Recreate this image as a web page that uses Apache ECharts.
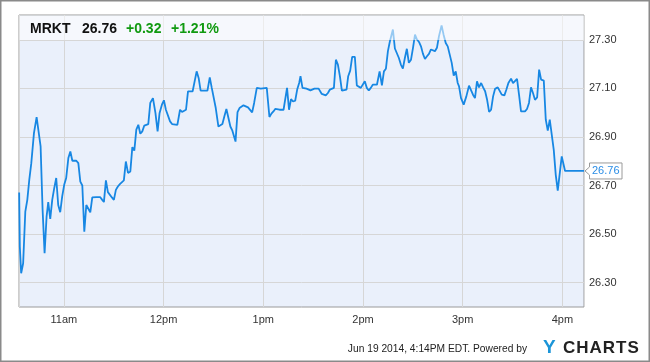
<!DOCTYPE html>
<html><head><meta charset="utf-8">
<script src="https://cdn.jsdelivr.net/npm/echarts@6/dist/echarts.min.js"></script>
<style>html,body{margin:0;padding:0;background:#fff}#c{width:650px;height:362px}</style>
</head><body><div id="c"></div><script>
const symbol = 'MRKT';
const lastPrice = 26.76;
const changeAbs = '+0.32';
const changePct = '+1.21%';
const footerText = 'Jun 19 2014, 4:14PM EDT. Powered by';
const brandY = 'Y';
const brandRest = 'CHARTS';
const xTickLabels = ['11am', '12pm', '1pm', '2pm', '3pm', '4pm'];
const xTickHours = [11, 12, 13, 14, 15, 16];
const yTicks = [26.30, 26.50, 26.70, 26.90, 27.10, 27.30];
// minutes since midnight (ET), Jun 19 2014
const minutes = [
633.1,633.5,634.3,635.5,636.8,638.0,639.2,640.4,642.0,643.6,644.8,646.0,647.2,648.4,649.6,650.6,651.8,653.0,654.2,655.4,
656.6,657.8,659.0,660.2,661.4,662.7,663.9,665.1,667.5,668.7,669.9,671.1,672.3,673.5,674.7,675.9,677.1,678.3,679.5,680.7,
681.9,683.1,684.1,685.3,686.5,687.7,688.9,690.1,691.3,692.5,693.7,694.9,696.1,697.3,698.6,700.0,701.2,702.4,703.6,704.8,
706.0,707.2,708.4,709.6,710.8,712.0,713.6,715.1,716.4,717.6,719.0,720.2,721.4,722.6,723.9,725.1,726.3,728.3,729.9,731.1,
732.3,733.5,734.7,735.9,737.5,738.7,739.9,741.1,742.3,744.0,745.2,746.4,747.8,749.0,750.2,751.4,753.0,754.2,755.4,756.6,
757.8,759.0,760.2,761.4,763.3,764.5,765.7,766.9,768.1,769.3,770.8,772.0,773.3,774.5,776.1,777.3,778.5,779.7,782.1,783.7,
784.9,786.1,787.3,788.5,789.8,791.0,792.2,793.4,794.3,795.5,796.7,797.9,799.2,800.4,801.6,802.4,803.6,804.8,806.0,807.2,
808.4,809.6,810.8,812.0,813.3,814.5,815.2,816.4,817.6,818.9,820.1,821.3,822.5,823.7,824.9,826.1,827.3,828.5,830.1,831.1,
832.3,833.5,835.1,836.3,837.5,838.7,839.9,841.1,842.3,843.5,844.7,845.9,847.1,848.4,850.0,851.4,852.6,853.8,855.0,856.2,
858.0,859.2,860.4,861.6,862.8,864.0,865.2,866.4,867.6,868.9,870.1,871.3,872.5,873.7,874.9,876.1,877.3,878.5,879.7,880.9,
882.1,883.3,884.5,885.7,887.3,888.5,889.8,891.0,892.2,893.4,894.6,895.8,897.0,897.8,899.0,900.6,902.2,903.8,905.0,906.2,
907.4,908.6,909.8,911.1,912.3,913.5,914.7,915.9,917.1,918.3,919.5,921.1,922.3,923.5,925.1,926.3,927.5,929.1,930.3,931.5,
932.7,933.9,935.1,936.3,937.5,938.7,939.9,941.1,942.3,943.5,944.8,946.0,947.2,948.8,950.0,951.2,952.4,953.6,954.8,956.0,
957.2,958.4,959.6,961.6,973.0
];
const prices = [
26.671,26.448,26.339,26.380,26.593,26.641,26.724,26.792,26.916,26.982,26.982,26.861,26.600,26.421,26.572,26.632,26.563,26.641,26.689,26.731,
26.620,26.590,26.655,26.703,26.731,26.813,26.840,26.802,26.802,26.792,26.716,26.700,26.510,26.620,26.620,26.590,26.651,26.648,26.652,26.645,
26.652,26.641,26.632,26.721,26.673,26.669,26.651,26.641,26.682,26.696,26.706,26.712,26.721,26.799,26.752,26.758,26.858,26.844,26.930,26.950,
26.913,26.923,26.947,26.953,26.953,27.040,27.060,26.999,26.923,26.999,27.033,27.051,27.012,27.016,26.964,26.953,26.950,26.950,27.012,27.003,
27.008,27.012,27.088,27.095,27.088,27.081,27.170,27.143,27.091,27.091,27.099,27.091,27.145,27.102,27.099,27.019,26.943,26.950,26.953,26.985,
27.015,27.015,26.943,26.926,26.881,27.002,27.019,27.026,27.030,27.022,27.022,27.019,27.001,27.040,27.102,27.095,27.099,27.102,27.102,26.982,
26.996,27.005,27.016,27.009,27.012,27.009,27.012,27.009,27.102,27.012,27.056,27.046,27.049,27.095,27.122,27.150,27.102,27.099,27.099,27.098,
27.092,27.091,27.099,27.102,27.099,27.095,27.077,27.077,27.071,27.081,27.095,27.102,27.102,27.218,27.198,27.150,27.091,27.088,27.095,27.150,
27.173,27.230,27.230,27.112,27.118,27.102,27.104,27.129,27.102,27.091,27.102,27.115,27.112,27.115,27.170,27.112,27.170,27.181,27.253,27.294,
27.342,27.264,27.263,27.225,27.198,27.181,27.225,27.263,27.205,27.218,27.267,27.321,27.301,27.291,27.273,27.242,27.221,27.232,27.242,27.260,
27.253,27.253,27.267,27.314,27.359,27.321,27.287,27.273,27.239,27.205,27.152,27.170,27.122,27.108,27.060,27.033,27.067,27.111,27.104,27.074,
27.060,27.129,27.104,27.122,27.104,27.088,27.053,27.003,27.012,27.067,27.098,27.104,27.102,27.074,27.071,27.095,27.122,27.140,27.122,27.122,
27.139,27.074,27.005,27.008,27.005,27.015,27.040,27.104,27.081,27.053,27.063,27.177,27.136,27.132,26.971,26.926,26.971,26.971,26.847,26.744,
26.679,26.673,26.820,26.760,26.760
];

const dayBase = new Date(2014, 5, 19).getTime();
const n = Math.min(minutes.length, prices.length);
const data = [];
for (let i = 0; i < n; i++) data.push([dayBase + minutes[i] * 60000, prices[i]]);
const xMin = dayBase + 633 * 60000;
const xMax = dayBase + 973 * 60000;

const FONT = '"Liberation Sans", Arial, Helvetica, sans-serif';
const chart = echarts.init(document.getElementById('c'), null, { renderer: 'canvas' });

const option = {
  animation: false,
  backgroundColor: '#ffffff',
  grid: {
    left: 19, right: 66, top: 15, bottom: 55,
    show: true, backgroundColor: '#eaf0fb', borderColor: '#9a9a9a', borderWidth: 1
  },
  xAxis: {
    type: 'time', min: xMin, max: xMax,
    minInterval: 3600000, maxInterval: 3600000,
    axisLine: { show: false }, axisTick: { show: false },
    splitLine: { show: true, lineStyle: { color: '#d6d6d6', width: 1 } },
    axisLabel: {
      color: '#333', fontSize: 11, fontFamily: FONT, margin: 7,
      showMinLabel: false, showMaxLabel: false,
      formatter: function (v) {
        const h = new Date(v).getHours();
        const idx = xTickHours.indexOf(h);
        return idx >= 0 ? xTickLabels[idx] : '';
      }
    }
  },
  yAxis: {
    type: 'value', position: 'right', min: 26.2, max: 27.402,
    axisLine: { show: false },
    axisTick: { show: false, customValues: yTicks },
    splitLine: { show: true, lineStyle: { color: '#d6d6d6', width: 1 } },
    axisLabel: {
      customValues: yTicks, color: '#333', fontSize: 11, fontFamily: FONT, margin: 5,
      formatter: function (v) { return v.toFixed(2); }
    }
  },
  series: [{
    type: 'line', data: data, showSymbol: false, symbol: 'none',
    lineStyle: { color: '#1787e3', width: 1.8 },
    z: 3
  }],
  graphic: []
};
chart.setOption(option);

const p = chart.convertToPixel({ gridIndex: 0 }, [xMax, lastPrice]);
const px = p[0], py = p[1];

// brand letters laid out with a small letter gap
const mctx = document.createElement('canvas').getContext('2d');
const brandFont = 'bold 17px ' + FONT;
mctx.font = brandFont;
const brandEls = [];
let bx = 563;
for (const ch of brandRest) {
  brandEls.push({ type: 'text', z: 101, x: bx, y: 348, style: { text: ch, font: brandFont, fill: '#222', textVerticalAlign: 'middle' } });
  bx += mctx.measureText(ch).width + 1.0;
}

chart.setOption({
  graphic: [
    { type: 'rect', z: 100, silent: true, shape: { x: 19.5, y: 15.5, width: 564.5, height: 24.5 },
      style: { fill: 'rgba(255,255,255,0.55)' } },
    { type: 'text', z: 101, x: 30, y: 29, style: { text: symbol, font: 'bold 14px ' + FONT, fill: '#111', textVerticalAlign: 'middle' } },
    { type: 'text', z: 101, x: 82, y: 29, style: { text: lastPrice.toFixed(2), font: 'bold 14px ' + FONT, fill: '#111', textVerticalAlign: 'middle' } },
    { type: 'text', z: 101, x: 126, y: 29, style: { text: changeAbs, font: 'bold 14px ' + FONT, fill: '#119a11', textVerticalAlign: 'middle' } },
    { type: 'text', z: 101, x: 171, y: 29, style: { text: changePct, font: 'bold 14px ' + FONT, fill: '#119a11', textVerticalAlign: 'middle' } },
    { type: 'polygon', z: 102, shape: { points: [[px + 1, py], [px + 5.5, py - 4], [px + 5.5, py - 8], [px + 38, py - 8], [px + 38, py + 8], [px + 5.5, py + 8], [px + 5.5, py + 4]] },
      style: { fill: '#fff', stroke: '#9a9a9a', lineWidth: 1 } },
    { type: 'text', z: 103, x: px + 8, y: py, style: { text: lastPrice.toFixed(2), font: '11px ' + FONT, fill: '#2a8de6', textVerticalAlign: 'middle' } },
    { type: 'text', z: 101, x: 527, y: 349, scaleX: 0.93, originX: 0, originY: 0,
      style: { text: footerText, font: '11px ' + FONT, fill: '#222', textAlign: 'right', textVerticalAlign: 'middle' } },
    { type: 'text', z: 101, x: 543, y: 347.5, style: { text: brandY, font: 'bold 19px ' + FONT, fill: '#1b95d8', textVerticalAlign: 'middle' } }
  ].concat(brandEls).concat([
    { type: 'rect', z: 104, silent: true, shape: { x: 0.75, y: 0.75, width: 648.5, height: 360.5 },
      style: { fill: 'none', stroke: '#8a8a8a', lineWidth: 1.5 } }
  ])
});
</script></body></html>
